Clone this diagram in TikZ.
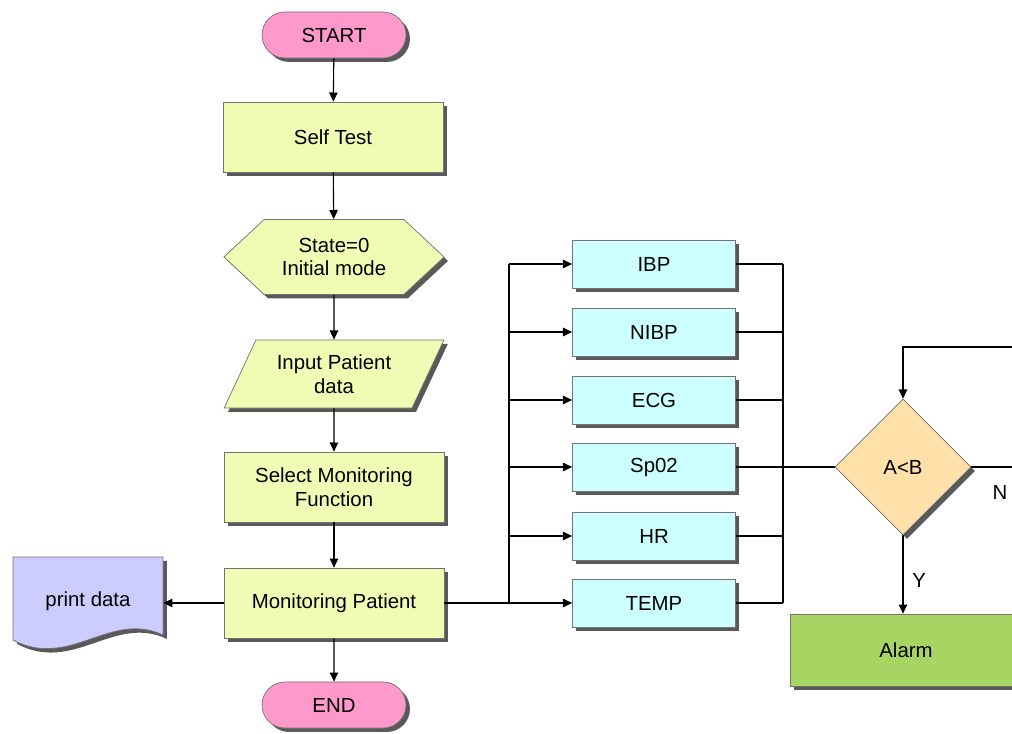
\documentclass[tikz,border=0pt]{standalone}
\usepackage{fontspec}
\setmainfont{Liberation Sans}
\usetikzlibrary{shapes.misc,shapes.geometric,shapes.symbols,shadows,arrows.meta}

\definecolor{termpink}{HTML}{FF99CC}
\definecolor{stepyellow}{HTML}{F0FCB4}
\definecolor{funcblue}{HTML}{CCFFFF}
\definecolor{decorange}{HTML}{FFE0A8}
\definecolor{alarmgreen}{HTML}{A8D464}
\definecolor{printlav}{HTML}{CCCCFF}

\tikzset{
  shade/.style={drop shadow={shadow xshift=2.8pt,shadow yshift=-2.8pt,fill=black!65,opacity=1}},
  base/.style={draw=black!55,line width=0.5pt,shade,font=\fontsize{14.5}{17}\selectfont,align=center,inner sep=0pt},
  term/.style={base,rounded rectangle,fill=termpink,minimum width=3.6cm,minimum height=1.15cm},
  stepbox/.style={base,rectangle,fill=stepyellow,minimum width=5.5cm,minimum height=1.75cm},
  prep/.style={base,signal,signal to=east and west,signal pointer angle=86,fill=stepyellow,minimum width=5.5cm,minimum height=1.875cm},
  inbox/.style={base,trapezium,trapezium stretches=true,trapezium left angle=59,trapezium right angle=121,fill=stepyellow,minimum width=5.5cm,minimum height=1.7cm},
  funcbox/.style={base,rectangle,fill=funcblue,minimum width=4.075cm,minimum height=1.2cm},
  decide/.style={base,diamond,aspect=1,fill=decorange,minimum width=3.4cm,minimum height=3.4cm},
  conn/.style={line width=0.8pt,black},
  lbl/.style={font=\fontsize{14.5}{17}\selectfont}
}

\begin{document}
\begin{tikzpicture}[x=0.025cm,y=-0.025cm,>={Triangle[length=6.5pt,width=6pt]}]
\useasboundingbox (0,0) rectangle (1012,734);
\clip (0,0) rectangle (1012,734);

% main column
\node[term]    (start)  at (334,35)  {START};
\node[stepbox] (self)   at (333,137) {Self Test};
\node[prep]    (init)   at (334,257) {State=0\\Initial mode};
\node[inbox]   (input)  at (334,374) {Input Patient\\data};
\node[stepbox] (select) at (334,487) {Select Monitoring\\Function};
\node[stepbox] (mon)    at (334,603) {Monitoring Patient};
\node[term]    (end)    at (334,705) {END};

% print data (document)
\draw[base,fill=printlav] (13,557) -- (163,557) -- (163,635)
    .. controls (110,610) and (70,670) .. (13,640) -- cycle;
\node[lbl,minimum width=3.75cm,minimum height=2.15cm,inner sep=0pt] (print) at (88,601) {print data};

% monitoring functions
\node[funcbox] (ibp)  at (654,264) {IBP};
\node[funcbox] (nibp) at (654,332) {NIBP};
\node[funcbox] (ecg)  at (654,400) {ECG};
\node[funcbox] (spo)  at (654,467) {Sp02};
\node[funcbox] (hr)   at (654,536) {HR};
\node[funcbox] (temp) at (654,603) {TEMP};

% comparison and alarm
\node[decide] (cmp) at (903,467) {A<B};
\node[base,rectangle,fill=alarmgreen,minimum width=6cm,minimum height=1.8cm] (alarm) at (910,650) {};
\node[lbl] (alarmtxt) at (906,650) {Alarm};

\coordinate (busl) at (509,603);
\coordinate (busr) at (783,603);
\coordinate (nout) at (1016,467);
\coordinate (back) at (1016,347);

% connectors
\draw[conn,->] (start) -- (self);
\draw[conn,->] (self) -- (init);
\draw[conn,->] (init) -- (input);
\draw[conn,->] (input) -- (select);
\draw[conn,->] (select) -- (mon);
\draw[conn,->] (mon) -- (end);
\draw[conn,->] (mon.west) -- (mon.west -| print.east);

\draw[conn,->] (mon.east) -- (temp.west);
\draw[conn] (busl |- ibp) -- (busl);
\foreach \f in {ibp,nibp,ecg,spo,hr}
  \draw[conn,->] (busl |- \f) -- (\f.west);
\draw[conn] (busr |- ibp) -- (busr);
\foreach \f in {ibp,nibp,ecg,spo,hr,temp}
  \draw[conn] (\f.east) -- (busr |- \f);
\draw[conn] (spo.east) -- (cmp.west);

\draw[conn,->] (cmp.south) -- node[lbl,right,xshift=3pt,yshift=-4pt] {Y} (alarm.north -| cmp);
\draw[conn] (cmp.east) -- (nout);
\node[lbl] (nlbl) at (1000,492) {N};
\draw[conn,->] (back) -- (back -| cmp) -- (cmp.north);
\end{tikzpicture}
\end{document}
